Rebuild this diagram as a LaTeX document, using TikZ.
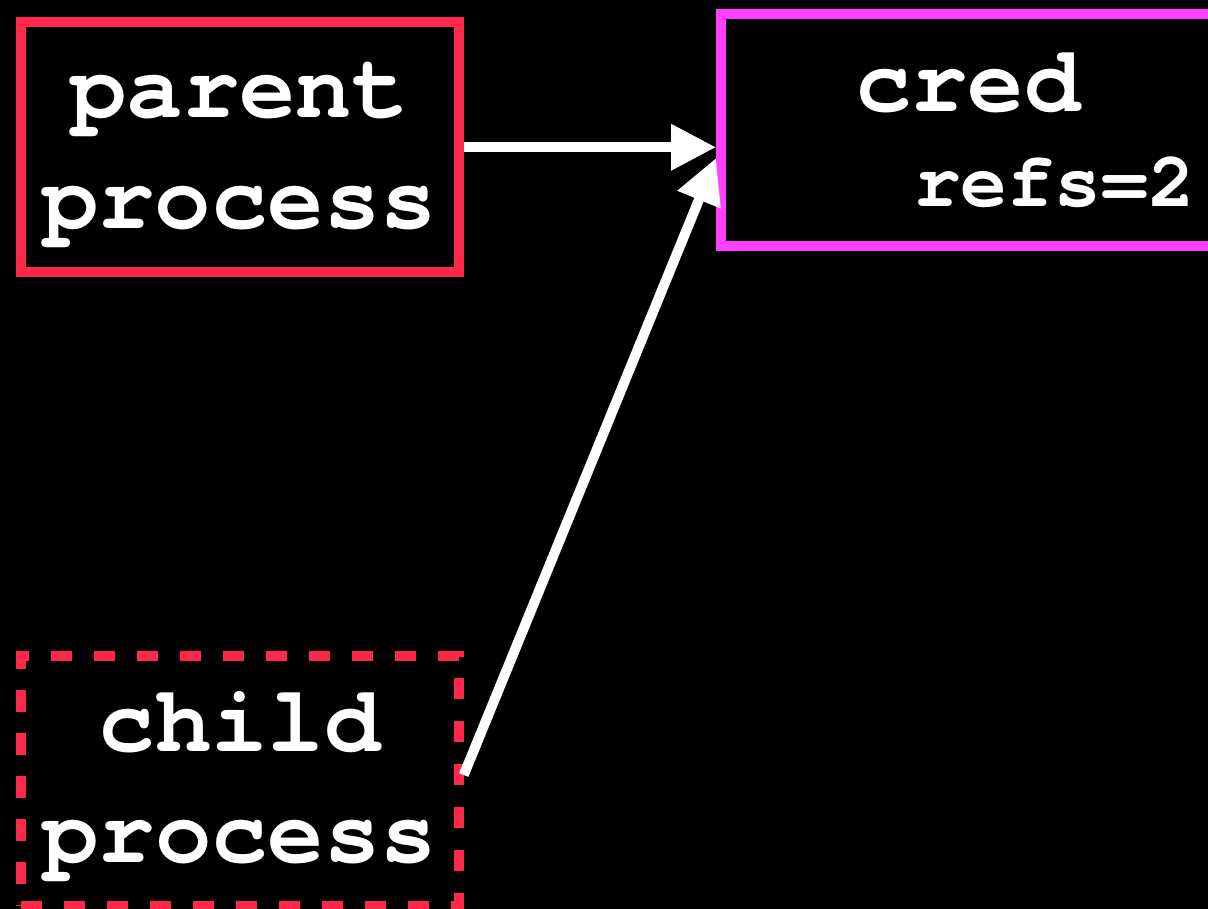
\documentclass[tikz,border=0pt]{standalone}
\usepackage{fontspec}
\setmonofont{TeX Gyre Cursor}
\usetikzlibrary{arrows.meta}
\definecolor{procred}{RGB}{255,40,75}
\definecolor{credpink}{RGB}{255,64,255}
\begin{document}
\begin{tikzpicture}[x=1pt,y=-1pt,
  box/.style={draw, line width=10pt, fill=black, text=white, inner sep=0pt,
    align=center, font=\ttfamily\bfseries\fontsize{94}{111}\selectfont},
  procbox/.style={box, draw=procred, minimum width=438pt, minimum height=250.5pt,
    text height=171pt, text depth=7.5pt},
  childbox/.style={procbox, dash pattern=on 21.5pt off 21.5pt},
  credbox/.style={box, draw=credpink, align=left, minimum width=608pt,
    minimum height=232pt, text height=160pt, text depth=7pt},
  conn/.style={draw=white, line width=10pt, -{Triangle[length=45pt,width=44pt]}}]

  % canvas
  \fill[black] (0,0) rectangle (1208,909);
  \useasboundingbox (0,0) rectangle (1208,909);

  % processes and the shared credentials
  \node[procbox] (parent) at (239.5,147.25) {parent\\process};
  \node[childbox] (child) at (239.75,781) {child\\process};
  \node[credbox] (cred) at (1025,130.5)
    {cred\\[-16pt]\hspace*{59pt}{\fontsize{78}{94}\selectfont refs=2}};

  % references
  \draw[conn] (parent.east) -- (cred.west |- parent.east);
  \draw[conn] ([yshift=6pt]child.east) -- ([yshift=-27.5pt]cred.west);
\end{tikzpicture}
\end{document}
